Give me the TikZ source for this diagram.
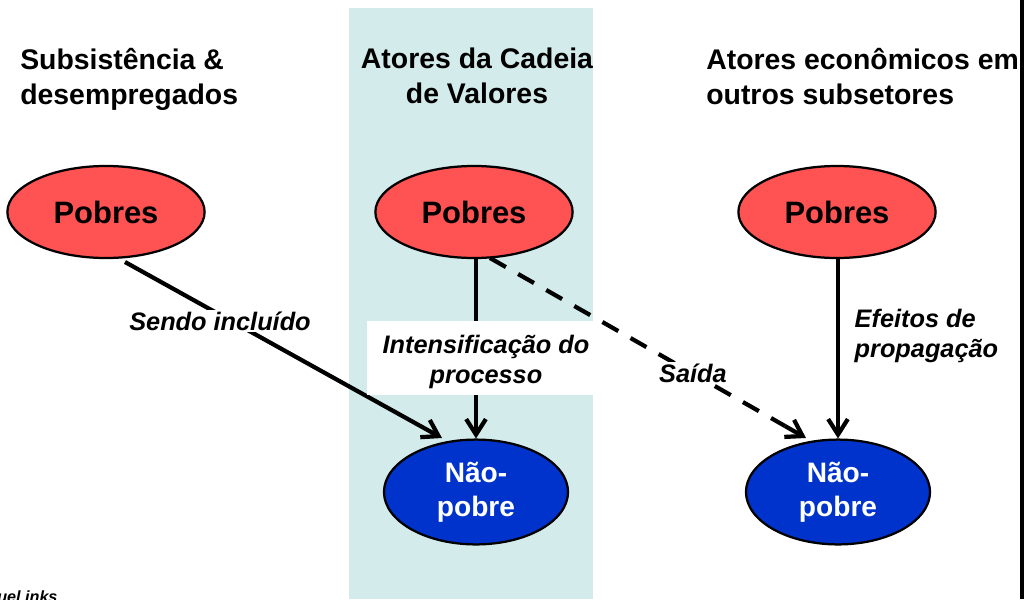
\documentclass[tikz,border=0pt]{standalone}
\usepackage{fontspec}
\setmainfont{Liberation Sans}
\usetikzlibrary{arrows.meta,shapes.geometric}
\definecolor{bandbg}{HTML}{D3EBEB}
\definecolor{poorred}{HTML}{FF5252}
\definecolor{richblue}{HTML}{0033CC}

\begin{document}
\begin{tikzpicture}[
  x=0.025cm, y=-0.025cm,
  every node/.style={font=\bfseries},
  head/.style={align=left,inner sep=0pt,font=\fontsize{20.2}{24.8}\selectfont\bfseries},
  poor/.style={ellipse,draw,line width=1.6pt,fill=poorred,minimum width=4.93cm,
    minimum height=2.3cm,inner sep=0pt,font=\fontsize{22}{26}\selectfont\bfseries},
  nonpoor/.style={ellipse,draw,line width=1.6pt,fill=richblue,text=white,align=center,
    minimum width=4.6cm,minimum height=2.62cm,inner sep=0pt,
    font=\fontsize{20}{24}\selectfont\bfseries},
  lbl/.style={align=left,inner sep=1pt,font=\fontsize{18}{21}\selectfont\bfseries\itshape},
  flow/.style={line width=3pt,-{Straight Barb[length=11pt,width=14pt,line width=3pt]}},
  >=Stealth
]
  \useasboundingbox (0,0) rectangle (1031,599);
  \fill[bandbg] (349,8) rectangle (593,599);
  \draw[line width=2.2pt] (1022,0) -- (1022,599);

  % column headings
  \node[head,anchor=north west] (h1) at (20,48) {Subsistência \&\\desempregados};
  \node[head,anchor=north,align=center] (h2) at (477,48) {Atores da Cadeia\\de Valores};
  \node[head,anchor=north west] (h3) at (706,48) {Atores econômicos em\\outros subsetores};

  % ellipses
  \node[poor] (p1) at (106,212) {Pobres};
  \node[poor] (p2) at (474,212) {Pobres};
  \node[poor] (p3) at (837,212) {Pobres};
  \node[nonpoor] (n2) at (476,492) {Não-\\pobre};
  \node[nonpoor] (n3) at (838,492) {Não-\\pobre};

  % connectors
  \coordinate (a1) at (125,262);
  \coordinate (b1) at (442,438);
  \draw[flow] (a1) -- (b1);
  \node[lbl,fill=white] (l1) at (220,321) {Sendo incluído};

  \draw[flow] (p2.south -| n2.north) -- (n2.north);
  \node[fill=white,minimum width=5.65cm,minimum height=1.83cm,inner sep=0pt] (w2) at (480,358) {};
  \node[lbl,align=center] (l2) at (486,362) {Intensificação do\\processo};

  \coordinate (a3) at (490,258);
  \coordinate (c3) at (785,426);
  \coordinate (b3) at (806,438);
  \draw[line width=3pt,dash pattern=on 13pt off 10pt] (a3) -- (c3);
  \draw[flow] (c3) -- (b3);
  \node[lbl,fill=white] (l3) at (693,373) {Saída};

  \draw[flow] (p3.south -| n3.north) -- (n3.north);
  \node[lbl,anchor=west] (l4) at (853,336) {Efeitos de\\propagação};

  % cut off note
  \node[anchor=base west,inner sep=0pt,font=\fontsize{11.5}{13}\selectfont\bfseries\itshape] (src) at (-3,602) {uel inks};
\end{tikzpicture}
\end{document}
